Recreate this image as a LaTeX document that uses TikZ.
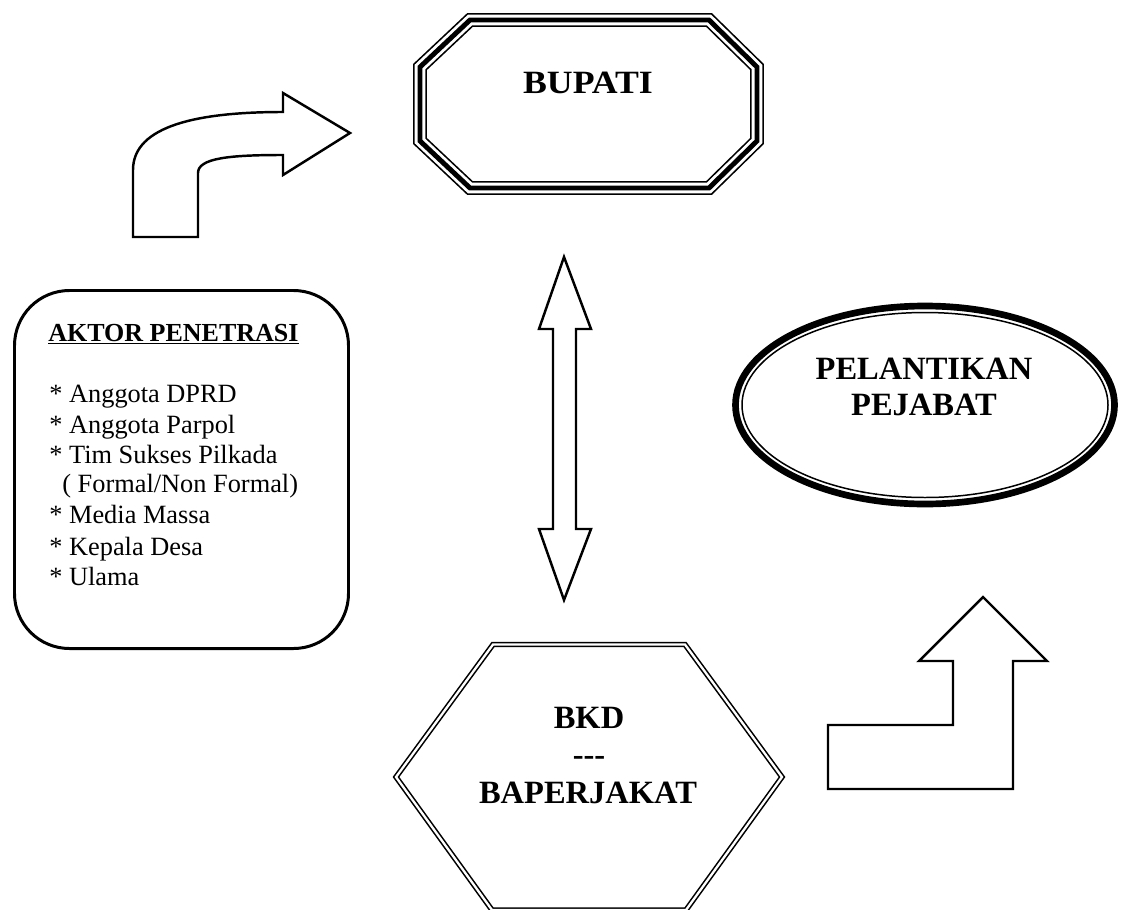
\documentclass[tikz,border=0pt]{standalone}
\usepackage{fontspec}
\setmainfont{Liberation Serif}
\usetikzlibrary{positioning}

\tikzset{
  blockarrow/.style={draw, line width=1.4pt},
  titletext/.style={font=\fontsize{18.5}{21}\selectfont\bfseries, anchor=base},
  listtext/.style={font=\fontsize{15}{17}\selectfont, anchor=base west, inner sep=0pt},
}

\begin{document}
\begin{tikzpicture}[x=0.02cm, y=-0.02cm]
  \useasboundingbox (0,0) rectangle (1125,909);

  % Bupati: octagon, thin-thick-thin border
  \foreach \w/\c in {7.9pt/black, 6pt/white, 2.8pt/black}
    \draw[line width=\w, \c] (470,20) -- (709,20) -- (757,67) -- (757,141) -- (709,188) -- (470,188) -- (420,141) -- (420,67) -- cycle;
  \node[titletext] (bupati) at (588,93) {\scalebox{1.1}[1]{BUPATI}};

  % Pelantikan: ellipse, thick-thin border
  \draw[line width=3.8pt] (925,405) ellipse [x radius=189.5, y radius=99];
  \draw[line width=0.85pt] (925,405) ellipse [x radius=183, y radius=92.5];
  \node[titletext] (pelantikan) at (924,379) {PELANTIKAN};
  \node[titletext] (pejabat) at (924,415) {PEJABAT};

  % BKD: hexagon, double border
  \draw[line width=0.9pt, double=white, double distance=1.3pt] (396,777) -- (493,644.5) -- (685,644.5) -- (782,777) -- (686,910) -- (492,910) -- cycle;
  \node[titletext] (bkd) at (589,728) {BKD};
  \node[titletext] (bkdsep) at (589,765) {-{}-{}-};
  \node[titletext] (baperjakat) at (588,803) {BAPERJAKAT};

  % Aktor penetrasi
  \draw[line width=1.7pt, rounded corners=1.1cm] (14.5,290.5) rectangle (348.5,648.5);
  \node[listtext, font=\fontsize{14.8}{17}\selectfont\bfseries] (aktor) at (48,341) {\underline{AKTOR PENETRASI}};
  \foreach \i/\x/\y/\txt in {1/49/402/{* Anggota DPRD}, 2/49/433/{* Anggota Parpol}, 3/49/463/{* Tim Sukses Pilkada}, 4/62/492/{( Formal/Non Formal)}, 5/49/523/{* Media Massa}, 6/49/555/{* Kepala Desa}, 7/49/585/{* Ulama}}
    \node[listtext] (item\i) at (\x,\y) {\txt};

  % block arrows
  \draw[blockarrow] (133,237) -- (133,170) .. controls (133,125) and (200,112) .. (283,112) -- (283,93) -- (350,133) -- (283,175) -- (283,155) .. controls (230,155) and (198,158) .. (198,173) -- (198,237) -- cycle;
  \draw[blockarrow] (564,257) -- (591,329) -- (576,329) -- (576,529) -- (591,529) -- (564,600) -- (539,529) -- (553,529) -- (553,329) -- (539,329) -- cycle;
  \draw[blockarrow] (828,789) -- (1013,789) -- (1013,661) -- (1047,661) -- (983,597) -- (919,661) -- (953,661) -- (953,725) -- (828,725) -- cycle;
\end{tikzpicture}
\end{document}
